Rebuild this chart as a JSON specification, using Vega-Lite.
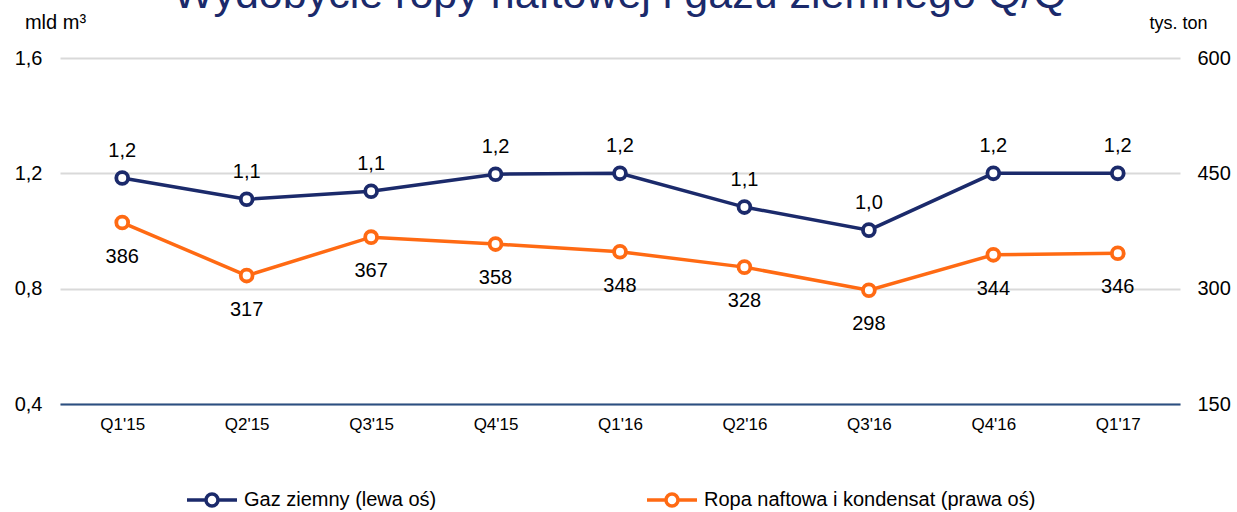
{
  "$schema": "https://vega.github.io/schema/vega-lite/v6.json",
  "width": 1120,
  "height": 346,
  "autosize": "none",
  "padding": {"left": 60, "top": 58, "right": 57, "bottom": 108},
  "config": {
    "font": "Liberation Sans",
    "view": {"stroke": null},
    "locale": {"number": {"decimal": ",", "thousands": " ", "grouping": [3], "currency": ["", " zł"]}}
  },
  "title": {
    "text": "Wydobycie ropy naftowej i gazu ziemnego Q/Q",
    "fontSize": 43,
    "fontWeight": "normal",
    "color": "#1b2a6b",
    "anchor": "middle",
    "frame": "group",
    "baseline": "alphabetic",
    "offset": 0,
    "dy": 39
  },
  "data": {
    "values": [
      {"quarter": "Q1'15", "series": "Gaz ziemny (lewa oś)", "value": 1.184},
      {"quarter": "Q2'15", "series": "Gaz ziemny (lewa oś)", "value": 1.11},
      {"quarter": "Q3'15", "series": "Gaz ziemny (lewa oś)", "value": 1.138},
      {"quarter": "Q4'15", "series": "Gaz ziemny (lewa oś)", "value": 1.197},
      {"quarter": "Q1'16", "series": "Gaz ziemny (lewa oś)", "value": 1.2},
      {"quarter": "Q2'16", "series": "Gaz ziemny (lewa oś)", "value": 1.083},
      {"quarter": "Q3'16", "series": "Gaz ziemny (lewa oś)", "value": 1.003},
      {"quarter": "Q4'16", "series": "Gaz ziemny (lewa oś)", "value": 1.2},
      {"quarter": "Q1'17", "series": "Gaz ziemny (lewa oś)", "value": 1.2},
      {"quarter": "Q1'15", "series": "Ropa naftowa i kondensat (prawa oś)", "value": 386},
      {"quarter": "Q2'15", "series": "Ropa naftowa i kondensat (prawa oś)", "value": 317},
      {"quarter": "Q3'15", "series": "Ropa naftowa i kondensat (prawa oś)", "value": 367},
      {"quarter": "Q4'15", "series": "Ropa naftowa i kondensat (prawa oś)", "value": 358},
      {"quarter": "Q1'16", "series": "Ropa naftowa i kondensat (prawa oś)", "value": 348},
      {"quarter": "Q2'16", "series": "Ropa naftowa i kondensat (prawa oś)", "value": 328},
      {"quarter": "Q3'16", "series": "Ropa naftowa i kondensat (prawa oś)", "value": 298},
      {"quarter": "Q4'16", "series": "Ropa naftowa i kondensat (prawa oś)", "value": 344},
      {"quarter": "Q1'17", "series": "Ropa naftowa i kondensat (prawa oś)", "value": 346}
    ]
  },
  "encoding": {
    "x": {
      "field": "quarter",
      "type": "ordinal",
      "sort": null,
      "scale": {"type": "point", "padding": 0.5},
      "axis": {
        "title": null,
        "labelAngle": 0,
        "ticks": false,
        "grid": false,
        "domainColor": "#2b4f81",
        "domainWidth": 2,
        "labelFontSize": 17,
        "labelColor": "#000000",
        "labelPadding": 12,
        "zindex": 1
      }
    },
    "color": {
      "field": "series",
      "type": "nominal",
      "scale": {
        "domain": ["Gaz ziemny (lewa oś)", "Ropa naftowa i kondensat (prawa oś)"],
        "range": ["#1b2a6b", "#ff6a13"]
      },
      "legend": {
        "title": null,
        "orient": "none",
        "direction": "horizontal",
        "legendX": 125,
        "legendY": 415,
        "padding": 0,
        "symbolType": "M-1,0H-0.24M0.24,0H1M-0.24,0A0.24,0.24 0 1,0 0.24,0A0.24,0.24 0 1,0 -0.24,0Z",
        "symbolSize": 2500,
        "symbolStrokeWidth": 3.5,
        "symbolFillColor": "#ffffff",
        "labelFontSize": 20,
        "labelColor": "#000000",
        "labelOffset": 5,
        "labelLimit": 500,
        "columnPadding": 203
      }
    }
  },
  "layer": [
    {
      "transform": [{"filter": "datum.series === 'Gaz ziemny (lewa oś)'"}],
      "encoding": {
        "y": {
          "field": "value",
          "type": "quantitative",
          "scale": {"domain": [0.4, 1.6], "nice": false, "zero": false},
          "axis": {
            "values": [0.4, 0.8, 1.2, 1.6],
            "format": ".1f",
            "grid": true,
            "gridColor": "#d9d9d9",
            "gridWidth": 2,
            "domain": false,
            "ticks": false,
            "labelFontSize": 20,
            "labelColor": "#000000",
            "labelPadding": 18,
            "title": "mld m³",
            "titleAngle": 0,
            "titleX": -5,
            "titleY": -30,
            "titleAlign": "center",
            "titleBaseline": "alphabetic",
            "titleFontWeight": "normal",
            "titleFontSize": 20,
            "titleColor": "#000000"
          }
        }
      },
      "layer": [
        {"mark": {"type": "line", "strokeWidth": 3.5}},
        {"mark": {"type": "point", "filled": false, "fill": "#ffffff", "size": 140, "strokeWidth": 3.8, "opacity": 1}},
        {
          "mark": {"type": "text", "fontSize": 20, "dy": -27, "baseline": "middle"},
          "encoding": {"text": {"field": "value", "type": "quantitative", "format": ".1f"}, "color": {"value": "#000000"}}
        }
      ]
    },
    {
      "transform": [{"filter": "datum.series === 'Ropa naftowa i kondensat (prawa oś)'"}],
      "encoding": {
        "y": {
          "field": "value",
          "type": "quantitative",
          "scale": {"domain": [150, 600], "nice": false, "zero": false},
          "axis": {
            "orient": "right",
            "values": [150, 300, 450, 600],
            "grid": false,
            "domain": false,
            "ticks": false,
            "labelFontSize": 20,
            "labelColor": "#000000",
            "labelPadding": 17,
            "title": "tys. ton",
            "titleAngle": 0,
            "titleX": -2,
            "titleY": -30,
            "titleAlign": "center",
            "titleBaseline": "alphabetic",
            "titleFontWeight": "normal",
            "titleFontSize": 18,
            "titleColor": "#000000"
          }
        }
      },
      "layer": [
        {"mark": {"type": "line", "strokeWidth": 3.5}},
        {"mark": {"type": "point", "filled": false, "fill": "#ffffff", "size": 140, "strokeWidth": 3.8, "opacity": 1}},
        {
          "mark": {"type": "text", "fontSize": 20, "dy": 34, "baseline": "middle"},
          "encoding": {"text": {"field": "value", "type": "quantitative", "format": "d"}, "color": {"value": "#000000"}}
        }
      ]
    }
  ],
  "resolve": {"scale": {"y": "independent"}}
}
